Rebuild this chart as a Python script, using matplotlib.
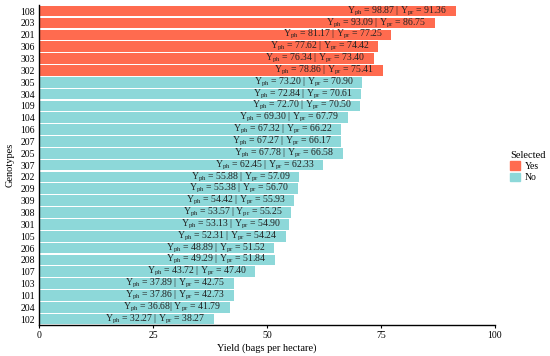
import matplotlib
matplotlib.use("Agg")
import matplotlib.pyplot as plt
from matplotlib.patches import Patch

plt.rcParams['font.family'] = ['Liberation Serif', 'DejaVu Serif']
plt.rcParams['mathtext.fontset'] = 'custom'
plt.rcParams['mathtext.rm'] = 'Liberation Serif'
plt.rcParams['mathtext.it'] = 'Liberation Serif'

### Data (top to bottom) ###
genotypes = ['108', '203', '201', '306', '303', '302', '305', '304', '109', '104',
             '106', '207', '205', '307', '202', '209', '309', '308', '301', '105',
             '206', '208', '107', '103', '101', '204', '102']
y_ph = [98.87, 93.09, 81.17, 77.62, 76.34, 78.86, 73.20, 72.84, 72.70, 69.30,
        67.32, 67.27, 67.78, 62.45, 55.88, 55.38, 54.42, 53.57, 53.13, 52.31,
        48.89, 49.29, 43.72, 37.89, 37.86, 36.68, 32.27]
y_pr = [91.36, 86.75, 77.25, 74.42, 73.40, 75.41, 70.90, 70.61, 70.50, 67.79,
        66.22, 66.17, 66.58, 62.33, 57.09, 56.70, 55.93, 55.25, 54.90, 54.24,
        51.52, 51.84, 47.40, 42.75, 42.73, 41.79, 38.27]
selected = ['Yes'] * 6 + ['No'] * 21

COLORS = {'Yes': '#FF6B4F', 'No': '#8DD8D9'}

fig = plt.figure(figsize=(5.5, 3.56), dpi=100)
ax = fig.add_axes([0.071, 0.087, 0.829, 0.9])

pos = list(range(len(genotypes)))
ax.barh(pos, y_pr, height=0.9, color=[COLORS[s] for s in selected], zorder=2)

# labels inside bar ends
for i in pos:
    sep = '| ' if genotypes[i] == '204' else ' | '
    lbl = r'Y$_{\mathrm{ph}}$ = %.2f%sY$_{\mathrm{pr}}$ = %.2f' % (y_ph[i], sep, y_pr[i])
    ax.annotate(lbl, (y_pr[i], i), xytext=(-6, 0), textcoords='offset points',
                ha='right', va='center', fontsize=7, color='#222222', zorder=3)

ax.set_ylim(len(genotypes) - 0.5, -0.55)
ax.set_xlim(0, 100)
ax.set_yticks(pos)
ax.set_yticklabels(genotypes)
ax.set_xticks([0, 25, 50, 75, 100])
ax.tick_params(axis='y', length=0, labelsize=7, pad=3)
ax.tick_params(axis='x', length=2, labelsize=7, pad=2)
ax.set_xlabel('Yield (bags per hectare)', fontsize=7.5, labelpad=3)
ax.set_ylabel('Genotypes', fontsize=7.5, labelpad=4)
for s in ['top', 'right']:
    ax.spines[s].set_visible(False)
ax.spines['left'].set_linewidth(1.0)
ax.spines['bottom'].set_linewidth(1.0)

handles = [Patch(color=COLORS['Yes'], label='Yes'), Patch(color=COLORS['No'], label='No')]
leg = fig.legend(handles=handles, title='Selected', loc='upper left',
                 bbox_to_anchor=(0.915, 0.595), frameon=False, fontsize=7,
                 title_fontsize=7.5, handlelength=1.0, handleheight=1.0,
                 handletextpad=0.5, labelspacing=0.15, borderpad=0.2)
leg._legend_box.align = 'left'

fig.savefig('out.png', dpi=100)
